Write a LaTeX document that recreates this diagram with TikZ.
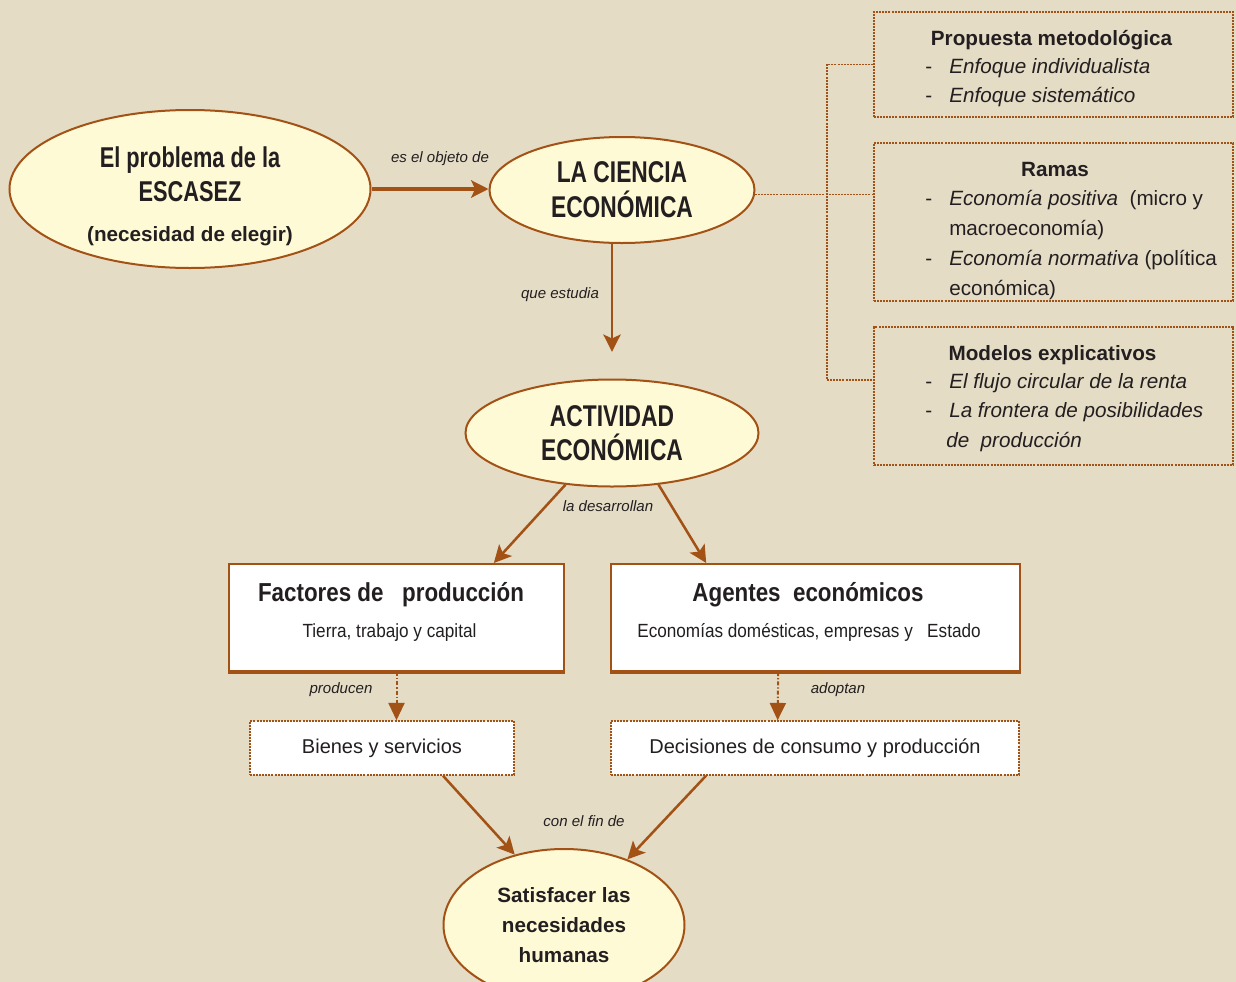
\documentclass[tikz,border=0pt]{standalone}
\usepackage{fontspec}
\setmainfont{Liberation Sans}
\newfontfamily\headfont[FakeStretch=0.76]{Liberation Sans}
\newfontfamily\titlefont[FakeStretch=0.86]{Liberation Sans}
\newfontfamily\subfont[FakeStretch=0.9]{Liberation Sans}
\usetikzlibrary{arrows.meta,shapes.geometric,calc}

\definecolor{paper}{RGB}{229,220,198}
\definecolor{bubblefill}{RGB}{255,250,214}
\definecolor{rust}{RGB}{163,82,21}
\definecolor{ink}{RGB}{35,31,32}

\newcommand{\listdash}{\makebox[18pt][l]{-}}

\tikzset{
  bubble/.style={ellipse, draw=rust, line width=1.5pt, fill=bubblefill, inner sep=0pt, align=center, text=ink},
  framebox/.style={rectangle, draw=rust, line width=1.5pt, fill=white, inner sep=0pt},
  dotbox/.style={rectangle, draw=rust, line width=1.1pt, dash pattern=on 1.5pt off 0.8pt, inner sep=0pt, text=ink},
  linklabel/.style={text=ink, font=\fontsize{11.3}{13}\selectfont\itshape},
  solidarrow/.style={draw=rust, line width=1.9pt, -{Stealth[length=13pt,width=13pt,inset=3pt]}},
  dotarrow/.style={draw=rust, line width=1.5pt, dash pattern=on 3pt off 1.5pt on 1pt off 1.5pt, -{Triangle[length=13pt,width=12pt]}},
  bracket/.style={draw=rust, line width=1pt, dash pattern=on 1.5pt off 0.8pt},
  boxitem/.style={anchor=base west, inner sep=0pt, text=ink, font=\fontsize{15.5}{18}\selectfont},
  boxhead/.style={anchor=base, inner sep=0pt, text=ink, font=\fontsize{15.5}{18}\selectfont\bfseries},
  boxtitle/.style={anchor=base, inner sep=0pt, text=ink, font=\titlefont\bfseries\fontsize{19.5}{22}\selectfont},
  boxsub/.style={anchor=base, inner sep=0pt, text=ink, font=\subfont\fontsize{14.3}{17}\selectfont},
}

\begin{document}
\begin{tikzpicture}[x=0.75pt,y=0.75pt,yscale=-1,xscale=1]
\useasboundingbox (0,0) rectangle (1236,982);
\fill[paper] (0,0) rectangle (1236,982);

%Shape: Ellipse
\node[bubble, minimum width=270.75pt, minimum height=118.5pt] (escasez) at (190,189) {};
% Text Node
\node[text=ink, align=center, font=\headfont\bfseries\fontsize{21.5}{25.5}\selectfont] (escasezhead) at (190,174) {El problema de la\\ESCASEZ};
% Text Node
\node[text=ink, font=\bfseries\fontsize{15.5}{18}\selectfont] (escasezsub) at (190,236) {(necesidad de elegir)};

%Shape: Ellipse
\node[bubble, minimum width=198.75pt, minimum height=79.5pt, font=\headfont\bfseries\fontsize{22.5}{26}\selectfont] (ciencia) at (622,190) {LA CIENCIA\\ECONÓMICA};

%Shape: Ellipse
\node[bubble, minimum width=219.75pt, minimum height=80.25pt, font=\headfont\bfseries\fontsize{22.5}{26}\selectfont] (actividad) at (612,433) {ACTIVIDAD\\ECONÓMICA};

%Shape: Ellipse
\node[bubble, minimum width=180.75pt, minimum height=114pt, font=\bfseries\fontsize{15.5}{22.5}\selectfont] (satisfacer) at (564,925) {Satisfacer las\\necesidades\\humanas};

%Shape: Rectangle
\node[framebox, minimum width=251.25pt, minimum height=80.25pt] (factores) at (396.5,617.5) {};
\draw[rust, line width=3pt] (factores.south west) -- (factores.south east);
% Text Node
\node[boxtitle] (factorestit) at (391,601) {Factores de~~~producción};
% Text Node
\node[boxsub] (factoressub) at (389.5,637) {Tierra, trabajo y capital};

%Shape: Rectangle
\node[framebox, minimum width=306.75pt, minimum height=80.25pt] (agentes) at (815.5,617.5) {};
\draw[rust, line width=3pt] (agentes.south west) -- (agentes.south east);
% Text Node
\node[boxtitle] (agentestit) at (808,601) {Agentes~~económicos};
% Text Node
\node[boxsub] (agentessub) at (809,637) {Economías domésticas, empresas y~~~Estado};

%Shape: Rectangle
\node[dotbox, fill=white, minimum width=198pt, minimum height=40.5pt, font=\fontsize{15}{18}\selectfont] (bienes) at (382,748) {Bienes y servicios};
%Shape: Rectangle
\node[dotbox, fill=white, minimum width=306pt, minimum height=40.5pt, font=\fontsize{15}{18}\selectfont] (decisiones) at (815,748) {Decisiones de consumo y producción};

%Shape: Rectangle
\node[dotbox, minimum width=269.25pt, minimum height=78.75pt] (propuesta) at (1053.5,64.5) {};
\node[boxhead] (propuestatit) at (1051.5,45) {Propuesta metodológica};
\node[boxitem] (propuesta1) at (925,73) {\listdash\textit{Enfoque individualista}};
\node[boxitem] (propuesta2) at (925,102) {\listdash\textit{Enfoque sistemático}};

%Shape: Rectangle
\node[dotbox, minimum width=269.25pt, minimum height=118.5pt] (ramas) at (1053.5,222) {};
\node[boxhead] (ramastit) at (1055,176) {Ramas};
\node[boxitem] (ramas1) at (925,205) {\listdash\textit{Economía positiva}~~(micro y};
\node[boxitem] (ramas2) at (949,235) {macroeconomía)};
\node[boxitem] (ramas3) at (925,265) {\listdash\textit{Economía normativa} (política};
\node[boxitem] (ramas4) at (949,295) {económica)};

%Shape: Rectangle
\node[dotbox, minimum width=269.25pt, minimum height=103.5pt] (modelos) at (1053.5,396) {};
\node[boxhead] (modelostit) at (1052.5,360) {Modelos explicativos};
\node[boxitem] (modelos1) at (925,388) {\listdash\textit{El flujo circular de la renta}};
\node[boxitem] (modelos2) at (925,417) {\listdash\textit{La frontera de posibilidades}};
\node[boxitem] (modelos3) at (946,447) {\textit{de~~producción}};

%Straight Lines
\coordinate (bracktop) at (827,64.5);
\coordinate (brackbot) at (827,380);
\coordinate (cienciaout) at (ciencia.-2);
\draw[bracket] (propuesta.west) -- (bracktop) -- (brackbot) -- (brackbot -| modelos.west);
\draw[bracket] (cienciaout) -- (cienciaout -| ramas.west);

%Straight Lines
\draw[solidarrow, line width=3pt] (escasez.east) -- (escasez.east -| ciencia.west);
\draw[solidarrow, shorten >=20pt] (ciencia.south -| actividad.north) -- (actividad.north);
\draw[solidarrow] (actividad.228) -- ([xshift=73pt]factores.north);
\draw[solidarrow] (actividad.-48) -- ([xshift=-82pt]agentes.north);
\draw[dotarrow] (factores.south) -- (factores.south |- bienes.north);
\draw[dotarrow] ([xshift=-28pt]agentes.south) -- ([xshift=-28pt]decisiones.north);
\draw[solidarrow] ([xshift=45.75pt]bienes.south) -- (satisfacer.125);
\draw[solidarrow] ([xshift=-81.75pt]decisiones.south) -- (satisfacer.46);

% Text Node
\node[linklabel] (lblobjeto) at (440,159) {es el objeto de};
% Text Node
\node[linklabel] (lblestudia) at (560,295) {que estudia};
% Text Node
\node[linklabel] (lbldesarrollan) at (608,506) {la desarrollan};
% Text Node
\node[linklabel] (lblproducen) at (341,690) {producen};
% Text Node
\node[linklabel] (lbladoptan) at (838,690) {adoptan};
% Text Node
\node[linklabel] (lblfin) at (584,821) {con el fin de};

\end{tikzpicture}
\end{document}
